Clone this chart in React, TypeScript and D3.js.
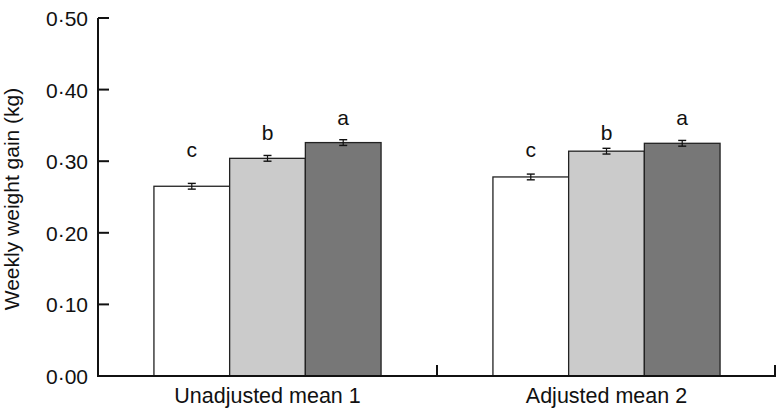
import React from "react";
import * as d3 from "d3";

const categories = ["Unadjusted mean 1", "Adjusted mean 2"];
const series = ["s1", "s2", "s3"];
const seriesColors = ["#ffffff", "#cbcbcb", "#777777"];
const values = [
  [0.265, 0.304, 0.326],
  [0.278, 0.314, 0.325],
];
const errors = [
  [0.004, 0.004, 0.004],
  [0.004, 0.004, 0.004],
];
const letters = ["c", "b", "a"];
const letterY = [0.306, 0.329, 0.350];
const yTicks = [0, 0.1, 0.2, 0.3, 0.4, 0.5];

const W = 780, H = 409;
const left = 98, right = 776, top = 18, bottom = 376;

export default function App() {
  const x0 = d3.scaleBand<string>().domain(categories).range([left, right]).paddingInner(0).paddingOuter(0);
  const bandInner = x0.bandwidth() * 0.67;
  const x1 = d3.scaleBand<string>().domain(series).range([0, bandInner]).padding(0);
  const y = d3.scaleLinear().domain([0, 0.5]).range([bottom, top]);
  const fmt = (v: number) => v.toFixed(2).replace(".", "\u00B7");
  const font = "Liberation Sans, Arial, Helvetica, sans-serif";
  return (
    <svg width={W} height={H} style={{ position: "absolute", left: 0, top: 0, background: "#fff" }}>
      {categories.map((c, ci) => {
        const gx = (x0(c) as number) + (x0.bandwidth() - bandInner) / 2;
        return (
          <g key={c}>
            {series.map((s, si) => {
              const v = values[ci][si];
              const bx = gx + (x1(s) as number);
              const bw = x1.bandwidth();
              const cx = bx + bw / 2;
              const e = errors[ci][si];
              return (
                <g key={s}>
                  <rect x={bx} y={y(v)} width={bw} height={bottom - y(v)} fill={seriesColors[si]} stroke="#222" strokeWidth={1.3} />
                  <line x1={cx} x2={cx} y1={y(v + e)} y2={y(v - e)} stroke="#111" strokeWidth={1.2} />
                  <line x1={cx - 4} x2={cx + 4} y1={y(v + e)} y2={y(v + e)} stroke="#111" strokeWidth={1.4} />
                  <line x1={cx - 4} x2={cx + 4} y1={y(v - e)} y2={y(v - e)} stroke="#111" strokeWidth={1.4} />
                  <text x={cx} y={y(letterY[si])} textAnchor="middle" fontFamily={font} fontSize={21} fill="#111">{letters[si]}</text>
                </g>
              );
            })}
            <text x={(x0(c) as number) + x0.bandwidth() / 2} y={403} textAnchor="middle" fontFamily={font} fontSize={21.5} fill="#111">{c}</text>
          </g>
        );
      })}
      <line x1={left} x2={left} y1={top} y2={bottom} stroke="#111" strokeWidth={2} />
      <line x1={left - 1} x2={right} y1={bottom} y2={bottom} stroke="#111" strokeWidth={2} />
      {yTicks.map((t) => (
        <g key={t}>
          <line x1={left} x2={left + 11} y1={y(t)} y2={y(t)} stroke="#111" strokeWidth={2} />
          <text x={88} y={y(t) + 8} textAnchor="end" fontFamily={font} fontSize={21} fill="#111">{fmt(t)}</text>
        </g>
      ))}
      {[categories[0]].map((c) => {
        const xe = (x0(c) as number) + x0.bandwidth();
        return <line key={c} x1={xe} x2={xe} y1={bottom} y2={bottom - 11} stroke="#111" strokeWidth={2} />;
      })}
      <line x1={right - 1} x2={right - 1} y1={bottom} y2={bottom - 11} stroke="#111" strokeWidth={2} />
      <text transform={`translate(19,${(top + bottom) / 2 + 2}) rotate(-90)`} textAnchor="middle" fontFamily={font} fontSize={21} fill="#111">Weekly weight gain (kg)</text>
    </svg>
  );
}
